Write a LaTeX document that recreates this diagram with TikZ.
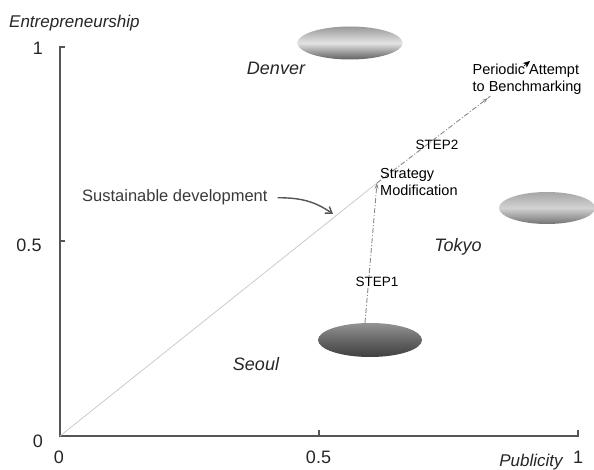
\documentclass[tikz,border=0pt]{standalone}
\usepackage{fontspec}
\setmainfont{Liberation Sans}
\usetikzlibrary{shapes.geometric,arrows.meta}
\definecolor{axisgray}{HTML}{555555}
\definecolor{txtgray}{HTML}{3A3A3A}
\definecolor{linegray}{HTML}{8A8A8A}
\begin{document}
\begin{tikzpicture}[x=1pt,y=-1pt,
  axisline/.style={draw=axisgray, line width=1.1pt},
  ticklabel/.style={inner sep=0pt, anchor=base, font=\fontsize{18}{18}\selectfont, text=black!85},
  axislabel/.style={inner sep=0pt, font=\fontsize{17}{17}\selectfont\itshape, text=black!85},
  city/.style={inner sep=0pt, anchor=base, font=\fontsize{18}{18}\selectfont\itshape, text=black!85},
  small/.style={inner sep=0pt, font=\fontsize{14.5}{17}\selectfont, text=black},
  blob/.style={ellipse, inner sep=0pt, minimum width=104pt, minimum height=33pt},
  stepline/.style={draw=linegray, line width=0.9pt, dash pattern=on 5pt off 2pt on 1pt off 2pt},
]
\useasboundingbox (0,0) rectangle (594,470);
\fill[white] (0,0) rectangle (594,470);

% axes
\coordinate (O) at (60,436);
\coordinate (ytop) at (60,47);
\coordinate (xend) at (578,436);
\draw[axisline] (65,47) -- (ytop) -- (O) -- (xend) -- (578,430);
\draw[axisline] (60,241) -- (65,241);
\draw[axisline] (319,436) -- (319,430);

% axis labels
\node[axislabel, anchor=base west] (ylab) at (9,28) {Entrepreneurship};
\node[axislabel, anchor=base] (xlab) at (531,466) {Publicity};
\node[ticklabel] (y1) at (38,55) {1};
\node[ticklabel] (y05) at (29,252) {0.5};
\node[ticklabel] (y0) at (38,447) {0};
\node[ticklabel] (x0) at (59,463) {0};
\node[ticklabel] (x05) at (318.5,463) {0.5};
\node[ticklabel] (x1) at (578,463) {1};

% city blobs
\node[blob, minimum width=105pt, minimum height=33pt,
      top color=gray!80, bottom color=gray!75!black, middle color=gray!22] (denver) at (350,43) {};
\node[blob, minimum width=96pt, minimum height=32pt,
      top color=gray!70, bottom color=gray!90!black, middle color=gray!35] (tokyo) at (547,208) {};
\node[blob, minimum width=104pt, minimum height=34pt,
      top color=black!42, bottom color=black!75, middle color=black!60] (seoul) at (370,340) {};

\node[city] (denvert) at (276,75) {Denver};
\node[city] (tokyot) at (458,252) {Tokyo};
\node[city] (seoult) at (256,370) {Seoul};

% trajectory
\coordinate (sm) at (377,183);
\coordinate (mid) at (488,98);
\coordinate (pa) at (530,61);
\coordinate (patail) at (524,66);
\draw[draw=gray!45, line width=0.7pt] (O) -- (sm);
\draw[stepline, -{Stealth[length=6pt,width=4pt,fill=linegray]}] (seoul.north) ++(-5,0) -- (sm);
\draw[stepline, -{Stealth[length=6pt,width=4pt,fill=linegray]}] (sm) -- (mid);
\draw[stepline] (mid) -- (pa);

% labels
\node[small, anchor=base west, align=left] (stratmod) at (380,196) {Strategy\\Modification};
\node[small, anchor=base west, align=left, fill=white, inner sep=0.5pt] (periodic) at (472,92) {Periodic Attempt\\to Benchmarking};
\draw[draw=black, line width=0.6pt, -{Stealth[length=7pt,width=6pt,fill=black]}] (patail) -- (pa);
\node[small, anchor=base, font=\fontsize{13.5}{13.5}\selectfont] (step1) at (377,287) {STEP1};
\node[small, anchor=base, font=\fontsize{13.5}{13.5}\selectfont] (step2) at (437,150) {STEP2};

\node[inner sep=0pt, anchor=base west, font=\fontsize{16.5}{16.5}\selectfont, text=txtgray] (sust) at (82,202) {Sustainable development};
\coordinate (sustend) at (333,214);
\draw[draw=axisgray, line width=1.4pt, -{Straight Barb[length=6pt,width=8pt]}]
  ([xshift=10pt]sust.east) to[out=0, in=145] (sustend);
\end{tikzpicture}
\end{document}
